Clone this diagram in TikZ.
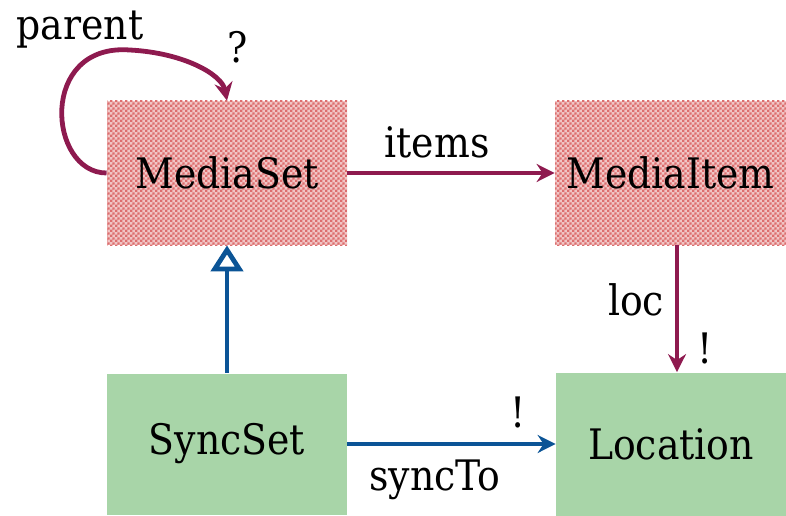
\documentclass[tikz,border=0pt]{standalone}
\usepackage{fontspec}
\setmainfont{DejaVu Serif Condensed}
\usetikzlibrary{arrows.meta,patterns.meta}
\definecolor{maroon}{HTML}{8E1A4F}
\definecolor{dblue}{HTML}{0B5496}
\definecolor{lgreen}{HTML}{A8D5A8}
\definecolor{checkred}{HTML}{DD6E6E}
\pgfdeclarepattern{
  name=finecheck,
  type=uncolored,
  bottom left={\pgfpoint{0pt}{0pt}},
  top right={\pgfpoint{2.4pt}{2.4pt}},
  tile size={\pgfpoint{2.4pt}{2.4pt}},
  code={
    \pgfpathrectangle{\pgfpoint{0pt}{0pt}}{\pgfpoint{1.2pt}{1.2pt}}
    \pgfpathrectangle{\pgfpoint{1.2pt}{1.2pt}}{\pgfpoint{1.2pt}{1.2pt}}
    \pgfusepath{fill}
  }
}
\begin{document}
\begin{tikzpicture}[x=0.5pt,y=0.5pt,
  font=\fontsize{21}{25}\selectfont,
  abstractbox/.style={draw=none,fill=checkred!40,postaction={pattern={finecheck},pattern color=checkred},
     inner sep=0pt,anchor=center},
  concretebox/.style={fill=lgreen,inner sep=0pt,anchor=center},
  assoc/.style={line width=2.4pt,-{Stealth[length=9pt,width=9pt,inset=3pt]}},
  lbl/.style={inner sep=0pt,anchor=center}
]
\useasboundingbox (0,0) rectangle (786,515);
\node[abstractbox,minimum width=120pt,minimum height=72pt] (ms) at (227,342) {MediaSet};
\node[abstractbox,minimum width=115.5pt,minimum height=72pt] (mi) at (670.5,342) {MediaItem};
\node[concretebox,minimum width=120pt,minimum height=70.5pt] (ss) at (227,71) {SyncSet};
\node[concretebox,minimum width=115pt,minimum height=71.5pt] (loc) at (671,71) {Location};

\draw[assoc,maroon] (ms.east) -- (mi.west);
\node[lbl] (litems) at (437,373) {items};

\draw[assoc,maroon] (ms.west) .. controls (48,342) and (38,472) .. (130,465)
   .. controls (185,462) and (222,440) .. (ms.north);
\node[lbl] (lparent) at (80,485) {parent};
\node[lbl] (lq) at (238,468) {?};

\draw[assoc,maroon] (mi.south -| 677,0) -- (loc.north -| 677,0);
\node[lbl] (lloc) at (636,215) {loc};
\node[lbl] (lex1) at (705,167) {!};

\draw[assoc,dblue] (ss.east) -- (loc.west);
\node[lbl] (lsync) at (435,35) {syncTo};
\node[lbl] (lex2) at (518,103) {!};

\draw[line width=2.4pt,dblue,-{Triangle[open,length=13pt,width=16pt,fill=white]}] (ss.north) -- (ms.south);
\end{tikzpicture}
\end{document}
